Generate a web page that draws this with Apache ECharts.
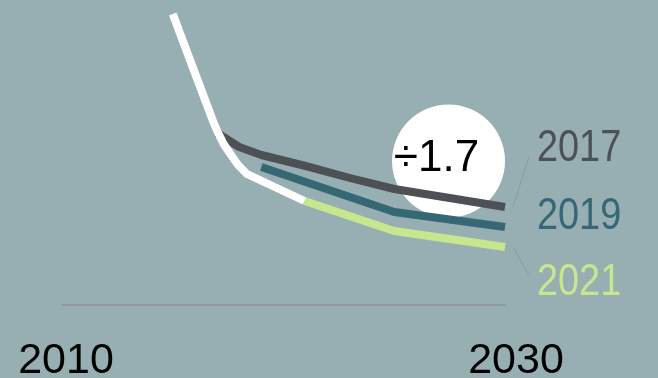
<!DOCTYPE html>
<html>
<head>
<meta charset="utf-8">
<script src="https://cdn.jsdelivr.net/npm/echarts@6/dist/echarts.min.js"></script>
<style>
html,body{margin:0;padding:0;background:#97aeb3;}
#c{width:658px;height:378px;}
</style>
</head>
<body>
<div id="c"></div>
<script>
// Data (x = year, y = index units)
const xTicks = [2010, 2030];
const white2015 = [[2015, 291], [2016.85, 182], [2017.05, 172], [2017.3, 161], [2017.6, 151], [2017.95, 140], [2018.35, 131], [2020.95, 104]];
const gray2017 = [[2017, 172], [2018, 158], [2019, 150], [2021, 139], [2023, 127], [2025, 116], [2030, 98]];
const teal2019 = [[2019, 138], [2025, 93], [2030, 78]];
const green2021 = [[2020.95, 104], [2025, 74], [2030, 58]];
const ratioLabel = '÷1.7';
const ratioPoint = [2027.45, 144];
const seriesNames = ['2017', '2019', '2021'];

const FONT = '"Liberation Sans",Arial,sans-serif';
const chart = echarts.init(document.getElementById('c'), null, {renderer: 'canvas'});

function lineSeries(name, data, color, z) {
  return {
    name: name, type: 'line', data: data, symbol: 'none', z: z,
    lineStyle: {color: color, width: 8, cap: 'butt', join: 'round'},
    silent: true, animation: false
  };
}

function legendText(text, y, color) {
  return {type: 'text', x: 537, y: y, scaleX: 0.86, scaleY: 1,
    style: {text: text, fontFamily: FONT, fontSize: 44, fill: color}};
}

const option = {
  backgroundColor: '#97aeb3',
  animation: false,
  grid: {left: 62, right: 153, top: 5, bottom: 73, outerBoundsMode: 'none', containLabel: false},
  xAxis: {
    type: 'value', min: 2010, max: 2030, interval: 20,
    axisLine: {show: true, lineStyle: {color: '#8f989a', width: 2}},
    axisTick: {show: false},
    splitLine: {show: false},
    axisLabel: {
      margin: 35,
      formatter: function (v) { return v === xTicks[0] ? '{a|' + v + '}' : '{b|' + v + '}'; },
      rich: {
        a: {fontFamily: FONT, fontSize: 43, color: '#000', padding: [0, 0, 0, 8]},
        b: {fontFamily: FONT, fontSize: 43, color: '#000', padding: [0, 0, 0, 22]}
      }
    }
  },
  yAxis: {type: 'value', min: 0, max: 300, show: false},
  series: [
    Object.assign(lineSeries(seriesNames[0], gray2017, '#4d5156', 3), {
      markPoint: {
        z: 1, silent: true, animation: false,
        data: [{coord: ratioPoint, symbol: 'circle', symbolSize: 113,
          itemStyle: {color: '#ffffff'},
          label: {show: true, formatter: ratioLabel, fontFamily: FONT, fontSize: 44,
            color: '#000', offset: [-12, -2]}}]
      }
    }),
    lineSeries(seriesNames[1], teal2019, '#356874', 4),
    lineSeries(seriesNames[2], green2021, '#c8e68e', 5),
    lineSeries('white', white2015, '#ffffff', 6)
  ],
  graphic: [
    legendText(seriesNames[0], 127, '#4d5156'),
    legendText(seriesNames[1], 195, '#356874'),
    legendText(seriesNames[2], 261, '#c8e68e'),
    {type: 'line', shape: {x1: 529, y1: 157, x2: 513, y2: 207}, style: {stroke: '#8f9a9c', lineWidth: 1}},
    {type: 'line', shape: {x1: 513, y1: 247, x2: 529, y2: 275}, style: {stroke: '#8f9a9c', lineWidth: 1}}
  ]
};
chart.setOption(option);
</script>
</body>
</html>
